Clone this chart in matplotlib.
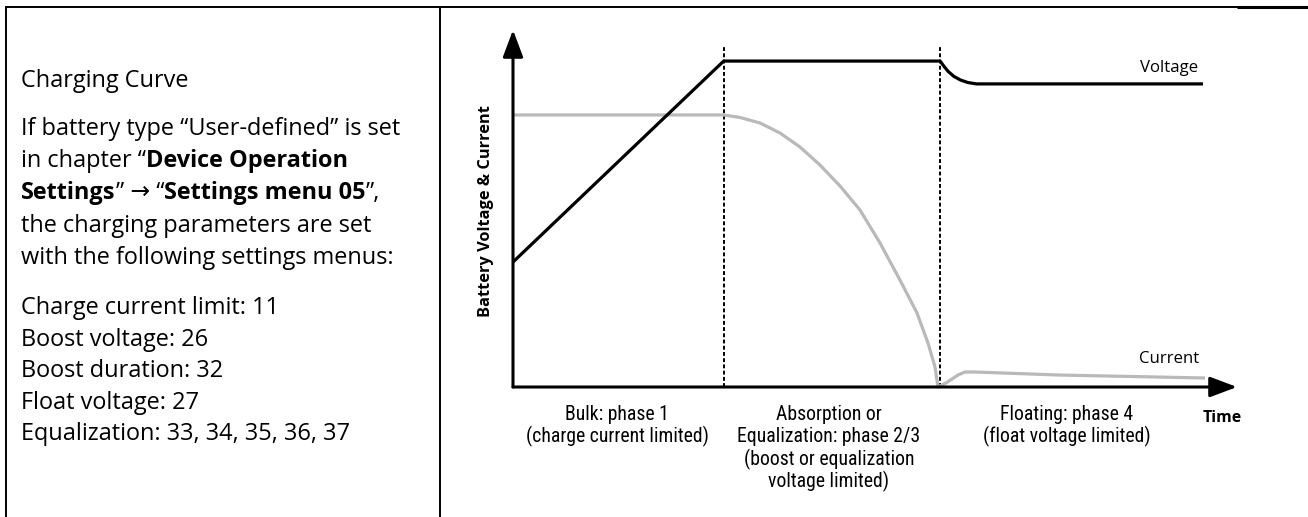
import matplotlib
matplotlib.use("Agg")
import matplotlib.pyplot as plt
from matplotlib import font_manager
from matplotlib.font_manager import FontProperties

# ---- data -----------------------------------------------------------------
# time axis in arbitrary units (0..100), signal level in arbitrary units (0..100)
phase_bounds = [29.1, 59.0]
phase_top = 95.5

voltage_t = [0.0, 29.1, 59.0, 59.5, 60.1, 60.9, 61.8, 62.8, 64.0, 95.3]
voltage_v = [35.0, 91.3, 91.3, 89.9, 88.4, 87.0, 86.0, 85.3, 84.9, 84.9]

current_t = [0.0, 29.14, 31.35, 34.12, 36.88, 39.64, 42.40, 45.17, 47.93,
             50.69, 53.45, 55.80, 57.32, 58.29, 58.70, 59.81, 60.64, 61.46,
             62.43, 63.81, 75.28, 95.58]
current_v = [76.2, 76.2, 75.5, 73.95, 71.15, 67.23, 62.18, 56.3, 49.58,
             40.34, 29.97, 20.73, 12.32, 5.60, 0.0, 1.12, 2.24, 3.36,
             4.20, 4.20, 3.36, 2.52]

phase_labels = [
    ["Bulk: phase 1", "(charge current limited)"],
    ["Absorption or", "Equalization: phase 2/3", "(boost or equalization",
     "voltage limited)"],
    ["Floating: phase 4", "(float voltage limited)"],
]

title_line = "Charging Curve"
intro_runs = [
    [("If battery type \u201cUser-defined\u201d is set", "normal")],
    [("in chapter \u201c", "normal"), ("Device Operation", "bold")],
    [("Settings", "bold"), ("\u201d \u2192 \u201c", "normal"),
     ("Settings menu 05", "bold"), ("\u201d,", "normal")],
    [("the charging parameters are set", "normal")],
    [("with the following settings menus:", "normal")],
]
menu_lines = [
    "Charge current limit: 11",
    "Boost voltage: 26",
    "Boost duration: 32",
    "Float voltage: 27",
    "Equalization: 33, 34, 35, 36, 37",
]

# ---- figure ---------------------------------------------------------------
W, H = 1308, 517
fig = plt.figure(figsize=(W / 100, H / 100), dpi=100)
page = fig.add_axes([0, 0, 1, 1])
page.set_xlim(0, W)
page.set_ylim(H, 0)
page.axis("off")
renderer = fig.canvas.get_renderer()

BODY = ["Open Sans", "DejaVu Sans"]


def _weight(w):
    return w if isinstance(w, (int, float)) else font_manager.weight_dict.get(w, 400)


def narrow_font():
    """Pick a regular-weight condensed face if one is installed."""
    prefs = ["Liberation Sans Narrow", "Open Sans Condensed", "Roboto Condensed",
             "Noto Sans Condensed", "DejaVu Sans"]
    found = []
    for f in font_manager.fontManager.ttflist:
        narrow = ("Narrow" in f.name or "Condensed" in f.name
                  or f.stretch in ("condensed", "semi-condensed", 87.5, 75))
        if "Condensed" in f.fname or "Narrow" in f.fname:
            narrow = True
        if narrow and f.style == "normal" and abs(_weight(f.weight) - 400) <= 100:
            rank = next((i for i, p in enumerate(prefs) if f.name.startswith(p)), 99)
            found.append((rank, f.fname))
    if found:
        found.sort()
        return FontProperties(fname=found[0][1])
    return FontProperties(family="Open Sans")


NARROW = narrow_font()


def fit_size(text, width_px, **kw):
    t = page.text(0, 0, text, fontsize=10, **kw)
    w = t.get_window_extent(renderer).width
    t.remove()
    return 10 * width_px / w


def draw_runs(x, y, runs, size):
    for s, weight in runs:
        t = page.text(x, y, s, fontsize=size, family=BODY, weight=weight,
                      va="baseline", ha="left")
        x += t.get_window_extent(renderer).width


# table frame
page.plot([6, W], [7, 7], color="black", lw=1.4, solid_capstyle="butt")
page.plot([1237, W], [7, 7], color="black", lw=2.2, solid_capstyle="butt")
page.plot([6, 6], [7, H], color="black", lw=1.4)
page.plot([440, 440], [7, H], color="black", lw=1.4)

# left column text
body_size = fit_size(intro_runs[0][0][0], 381, family=BODY)
page.text(21, 87, title_line, fontsize=body_size, family=BODY, va="baseline")
for i, runs in enumerate(intro_runs):
    draw_runs(21, 135 + i * 32.2, runs, body_size)
for i, line in enumerate(menu_lines):
    page.text(21, 314 + i * 31.6, line, fontsize=body_size, family=BODY,
              va="baseline")

# ---- chart ----------------------------------------------------------------
ax = fig.add_axes([513 / W, (H - 387) / H, (1237 - 513) / W, (387 - 30) / H])
ax.set_xlim(0, 100)
ax.set_ylim(0, 100)
ax.axis("off")

arrow = dict(arrowstyle="-|>,head_length=1.65,head_width=0.62", lw=2.2,
             color="black", shrinkA=0, shrinkB=0, mutation_scale=10)
ax.annotate("", xy=(0, 100), xytext=(0, 0), arrowprops=arrow,
            annotation_clip=False)
ax.annotate("", xy=(100, 0), xytext=(0, 0), arrowprops=arrow,
            annotation_clip=False)

for xb in phase_bounds:
    ax.plot([xb, xb], [0, phase_top], color="black", lw=1.4,
            ls=(0, (2.0, 1.2)), clip_on=False)

ax.plot(current_t, current_v, color="#b9b9b9", lw=2.3, clip_on=False,
        solid_joinstyle="round", solid_capstyle="butt")
ax.plot(voltage_t, voltage_v, color="black", lw=2.3, clip_on=False,
        solid_joinstyle="round", solid_capstyle="butt")

lab_size = fit_size("Voltage", 58, family=BODY)
page.text(1169, 68, "Voltage", fontsize=lab_size, family=BODY,
          ha="center", va="center")
page.text(1199, 359, "Current", fontsize=lab_size, family=BODY,
          ha="right", va="center")

time_size = fit_size("Time", 39, family=BODY, weight="bold")
page.text(1222, 422, "Time", fontsize=time_size, family=BODY, weight="bold",
          ha="center", va="baseline")

ylab = "Battery Voltage & Current"
ylab_size = fit_size(ylab, 212, family=BODY, weight="bold")
page.text(486, 211, ylab, fontsize=ylab_size, family=BODY, weight="bold",
          rotation=90, ha="center", va="center")

phase_size = fit_size("(charge current limited)", 182, fontproperties=NARROW)
for cx, lines in zip([617, 829, 1067], phase_labels):
    for j, line in enumerate(lines):
        page.text(cx, 420 + j * 22.5, line, fontproperties=NARROW,
                  fontsize=phase_size, ha="center", va="baseline")

fig.savefig("out.png", dpi=100)
